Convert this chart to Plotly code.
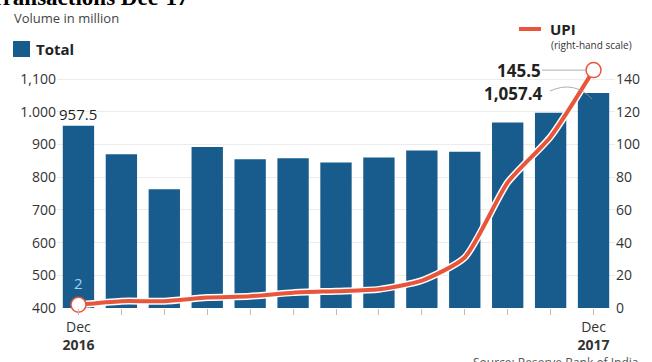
import plotly.graph_objects as go

months = ["Dec 2016", "Jan 2017", "Feb 2017", "Mar 2017", "Apr 2017", "May 2017", "Jun 2017",
          "Jul 2017", "Aug 2017", "Sep 2017", "Oct 2017", "Nov 2017", "Dec 2017"]
total = [957.5, 870, 763, 892, 855, 858, 845, 860, 882, 878, 967, 997, 1057.4]
upi = [2, 4.2, 4.2, 6.4, 7.2, 9.4, 10.3, 11.4, 16.8, 30.9, 76.8, 104.8, 145.5]
left_ticks = [400, 500, 600, 700, 800, 900, 1000, 1100]
left_labels = ["400", "500", "600", "700", "800", "900", "1.000", "1,100"]
right_ticks = [0, 20, 40, 60, 80, 100, 120, 140]
x_labels = ["Dec<br><b>2016</b>"] + [""] * 11 + ["Dec<br><b>2017</b>"]

BAR = "#175c8d"
LINE = "#e8553a"
FONT = "Open Sans"

W, H = 652, 362
L, R, T, B = 57, 37, 55, 54
pw, ph = W - L - R, H - T - B


def px(x):
    return (x - L) / pw


def py(y):
    return (H - B - y) / ph


fig = go.Figure()
fig.add_trace(go.Bar(x=months, y=total, marker=dict(color=BAR, line=dict(width=0)),
                     showlegend=False, hoverinfo="skip"))
fig.add_trace(go.Scatter(x=months, y=upi, yaxis="y2", mode="lines",
                         line=dict(color="white", width=7, shape="spline", smoothing=0.6),
                         showlegend=False, hoverinfo="skip"))
fig.add_trace(go.Scatter(x=months, y=upi, yaxis="y2", mode="lines",
                         line=dict(color=LINE, width=4, shape="spline", smoothing=0.6),
                         showlegend=False))
fig.add_trace(go.Scatter(x=[months[0], months[-1]], y=[upi[0], upi[-1]], yaxis="y2", mode="markers",
                         marker=dict(size=15, color="white", line=dict(color=LINE, width=1.5)),
                         showlegend=False, cliponaxis=False))

ymax = 400 + ph / 0.327
fig.update_layout(
    width=W, height=H,
    margin=dict(l=L, r=R, t=T, b=B, autoexpand=False),
    paper_bgcolor="white", plot_bgcolor="white",
    font=dict(family=FONT, color="#333333", size=14),
    bargap=0.27,
    xaxis=dict(type="category", range=[-0.5, 12.5], tickvals=months, ticktext=x_labels, ticks="outside",
               ticklen=6, tickcolor="#bbbbbb", showgrid=False, showline=False, automargin=False,
               tickfont=dict(size=14, color="#333333")),
    yaxis=dict(range=[400, ymax], tickvals=left_ticks, ticktext=left_labels, automargin=False,
               showgrid=True, gridcolor="#ececec", gridwidth=1, zeroline=False,
               showline=False, ticks="", tickfont=dict(size=14, color="#333333")),
    yaxis2=dict(range=[0, (ymax - 400) / 5], overlaying="y", side="right", automargin=False,
                tickvals=right_ticks, showgrid=False, zeroline=False, showline=False,
                ticks="", tickfont=dict(size=14, color="#333333")),
)

ann = []
# title cut off at the top
ann.append(dict(text="<b>Transactions Dec-17</b>", x=px(-13), y=py(12), xref="paper", yref="paper",
                xanchor="left", yanchor="bottom", showarrow=False,
                font=dict(family="Liberation Serif", size=23, color="#000000")))
ann.append(dict(text="Volume in million", x=px(12), y=py(18), xref="paper", yref="paper",
                xanchor="left", yanchor="middle", showarrow=False,
                font=dict(size=13, color="#444444")))
ann.append(dict(text="<b>Total</b>", x=px(34), y=py(49), xref="paper", yref="paper",
                xanchor="left", yanchor="middle", showarrow=False,
                font=dict(size=15, color="#222222")))
ann.append(dict(text="<b>UPI</b>", x=px(548), y=py(29), xref="paper", yref="paper",
                xanchor="left", yanchor="middle", showarrow=False,
                font=dict(size=15, color="#222222")))
ann.append(dict(text="(right-hand scale)", x=px(549), y=py(45), xref="paper", yref="paper",
                xanchor="left", yanchor="middle", showarrow=False,
                font=dict(size=10, color="#333333")))
ann.append(dict(text="957.5", x=months[0], y=total[0], xref="x", yref="y",
                yanchor="bottom", showarrow=False, yshift=0,
                font=dict(size=15, color="#222222")))
ann.append(dict(text="2", x=months[0], y=upi[0], xref="x", yref="y2",
                yanchor="bottom", showarrow=False, yshift=10,
                font=dict(size=15, color="#a9d2ee")))
ann.append(dict(text="<b>145.5</b>", x=months[-1], y=upi[-1], xref="x", yref="y2",
                showarrow=True, arrowhead=0, arrowwidth=0.8, arrowcolor="#999999",
                ax=-75, ay=0, standoff=8,
                font=dict(size=17, color="#222222")))
ann.append(dict(text="<b>1,057.4</b>", x=px(545), y=py(93), xref="paper", yref="paper",
                xanchor="right", yanchor="middle", showarrow=False,
                font=dict(size=17, color="#222222")))
ann.append(dict(text="Source: Reserve Bank of India", x=px(641), y=py(362), xref="paper", yref="paper",
                xanchor="right", yanchor="middle", showarrow=False,
                font=dict(size=12, color="#555555")))

shapes = [
    dict(type="rect", xref="paper", yref="paper", x0=px(13), x1=px(30), y0=py(57), y1=py(41),
         fillcolor=BAR, line=dict(width=0)),
    dict(type="line", xref="paper", yref="paper", x0=px(519), x1=px(541), y0=py(29), y1=py(29),
         line=dict(color=LINE, width=4)),
    dict(type="path", xref="paper", yref="paper",
         path="M {},{} Q {},{} {},{}".format(px(550), py(91), px(574), py(80), px(592), py(99)),
         line=dict(color="#999999", width=0.8)),
]

fig.update_layout(annotations=ann, shapes=shapes)
fig.write_html("out.html", config={"displayModeBar": False},
               post_script="document.body.style.margin='0';")
